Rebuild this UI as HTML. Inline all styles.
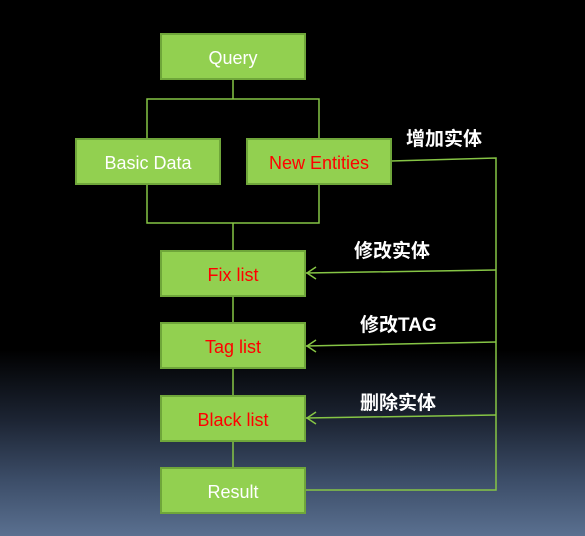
<!DOCTYPE html>
<html><head><meta charset="utf-8"><style>
html,body{margin:0;padding:0}
body{width:585px;height:536px;overflow:hidden;background:linear-gradient(to bottom,#000 0,#000 350px,#1c2433 420px,#3c4d68 480px,#5a7090 536px);position:relative;font-family:"Liberation Sans","Noto Sans CJK SC",sans-serif}
.b{position:absolute;background:#92d050;border:2px solid #6fa63a;box-sizing:border-box;color:#fff;font-size:18px;display:flex;align-items:center;justify-content:center;padding-top:4px}
.r{color:#ff0000}
.l{position:absolute;color:#fff;font-size:19px;font-weight:bold;white-space:nowrap}
svg{position:absolute;left:0;top:0}
</style></head><body>
<svg width="585" height="536">
<g stroke="#86c545" stroke-width="1.5" fill="none">
<path d="M233 80V99M147 138V99H319V138M147 185V223H319V185M233 223V250M233 297V322M233 369V395M233 441V467"/>
<path d="M391 161L496 158V490H306"/>
<path d="M496 270L306 273M496 342L306 346M496 415L306 418"/>
<path d="M316 267L307 273L316 279M316 340L307 346L316 352M316 412L307 418L316 424"/>
</g></svg>
<div class="b" style="left:160px;top:33px;width:146px;height:47px">Query</div>
<div class="b" style="left:75px;top:138px;width:146px;height:47px">Basic Data</div>
<div class="b r" style="left:246px;top:138px;width:146px;height:47px">New Entities</div>
<div class="b r" style="left:160px;top:250px;width:146px;height:47px">Fix list</div>
<div class="b r" style="left:160px;top:322px;width:146px;height:47px">Tag list</div>
<div class="b r" style="left:160px;top:395px;width:146px;height:47px">Black list</div>
<div class="b" style="left:160px;top:467px;width:146px;height:47px">Result</div>
<div class="l" style="left:406px;top:124px">增加实体</div>
<div class="l" style="left:354px;top:236px">修改实体</div>
<div class="l" style="left:360px;top:310px">修改TAG</div>
<div class="l" style="left:360px;top:388px">删除实体</div>
</body></html>
